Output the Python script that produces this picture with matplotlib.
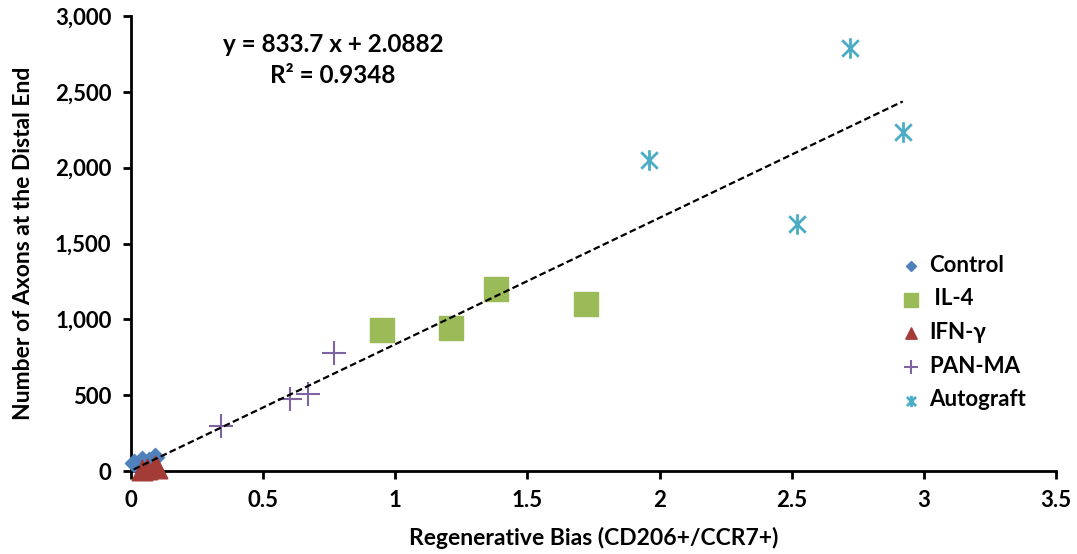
import numpy as np
import matplotlib
matplotlib.use("Agg")
import matplotlib.pyplot as plt
from matplotlib.path import Path
from matplotlib.ticker import FuncFormatter, MultipleLocator

plt.rcParams['font.family'] = ['Lato', 'DejaVu Sans']

# data
control_x = [0.01, 0.04, 0.07, 0.09]
control_y = [55, 75, 65, 90]
il4_x = [0.95, 1.21, 1.38, 1.72]
il4_y = [930, 945, 1203, 1104]
ifn_x = [0.04, 0.06, 0.09, 0.10]
ifn_y = [5, 15, 30, 20]
pan_x = [0.34, 0.60, 0.67, 0.77]
pan_y = [297, 473, 508, 780]
auto_x = [1.96, 2.52, 2.72, 2.92]
auto_y = [2051, 1629, 2788, 2232]

slope = 833.7
intercept = 2.0882
r2 = 0.9348

# asterisk: vertical bar plus an X
star = Path([(0, -1), (0, 1), (-0.8, -0.8), (0.8, 0.8), (-0.8, 0.8), (0.8, -0.8)],
            [Path.MOVETO, Path.LINETO, Path.MOVETO, Path.LINETO, Path.MOVETO, Path.LINETO])

fig = plt.figure(figsize=(10.77, 5.54), dpi=100)
ax = fig.add_axes([0.1216, 0.1498, 0.8589, 0.8213])

ax.scatter(control_x, control_y, marker='D', s=85, color='#4F81BD', label='Control', clip_on=False, zorder=3)
ax.scatter(il4_x, il4_y, marker='s', s=300, color='#9BBB59', label=' IL-4', clip_on=False, zorder=3)
ax.scatter(ifn_x, ifn_y, marker='^', s=220, color='#A33B36', label='IFN-γ', clip_on=False, zorder=3)
ax.scatter(pan_x, pan_y, marker='+', s=300, color='#8064A2', linewidths=1.5, label='PAN-MA', clip_on=False, zorder=3)
ax.scatter(auto_x, auto_y, marker=star, s=220, color='#4BACC6', linewidths=2, label='Autograft', clip_on=False, zorder=3)

all_x = control_x + il4_x + ifn_x + pan_x + auto_x
xs = np.array([min(all_x), max(all_x)])
ax.plot(xs, slope * xs + intercept, linestyle=(0, (3, 1.5)), color='black', lw=1.6, zorder=4)

ax.text(0.765, 2810, f"y = {slope} x + {intercept}", ha='center', va='center', fontsize=17.5, fontweight='bold')
ax.text(0.765, 2610, f"R² = {r2}", ha='center', va='center', fontsize=17.5, fontweight='bold')

ax.set_xlim(0, 3.5)
ax.set_ylim(0, 3000)
ax.xaxis.set_major_locator(MultipleLocator(0.5))
ax.yaxis.set_major_locator(MultipleLocator(500))
ax.xaxis.set_major_formatter(FuncFormatter(lambda v, p: f"{v:g}"))
ax.yaxis.set_major_formatter(FuncFormatter(lambda v, p: f"{int(v):,}"))

for side in ['top', 'right']:
    ax.spines[side].set_visible(False)
for side in ['left', 'bottom']:
    ax.spines[side].set_linewidth(2)
ax.tick_params(direction='out', length=6, width=2, labelsize=16, pad=8)
for lab in ax.get_xticklabels() + ax.get_yticklabels():
    lab.set_fontweight('bold')

ax.set_xlabel('Regenerative Bias (CD206+/CCR7+)', fontsize=16.5, fontweight='bold', labelpad=11)
ax.set_ylabel('Number of Axons at the Distal End', fontsize=16.5, fontweight='bold', labelpad=15)

leg = ax.legend(loc='upper left', bbox_to_anchor=(0.822, 0.495), frameon=False, fontsize=16,
                handlelength=1.0, handletextpad=0.3, labelspacing=0.57, markerscale=0.55, borderaxespad=0)
for t in leg.get_texts():
    t.set_fontweight('bold')

fig.savefig('out.png', dpi=100)
